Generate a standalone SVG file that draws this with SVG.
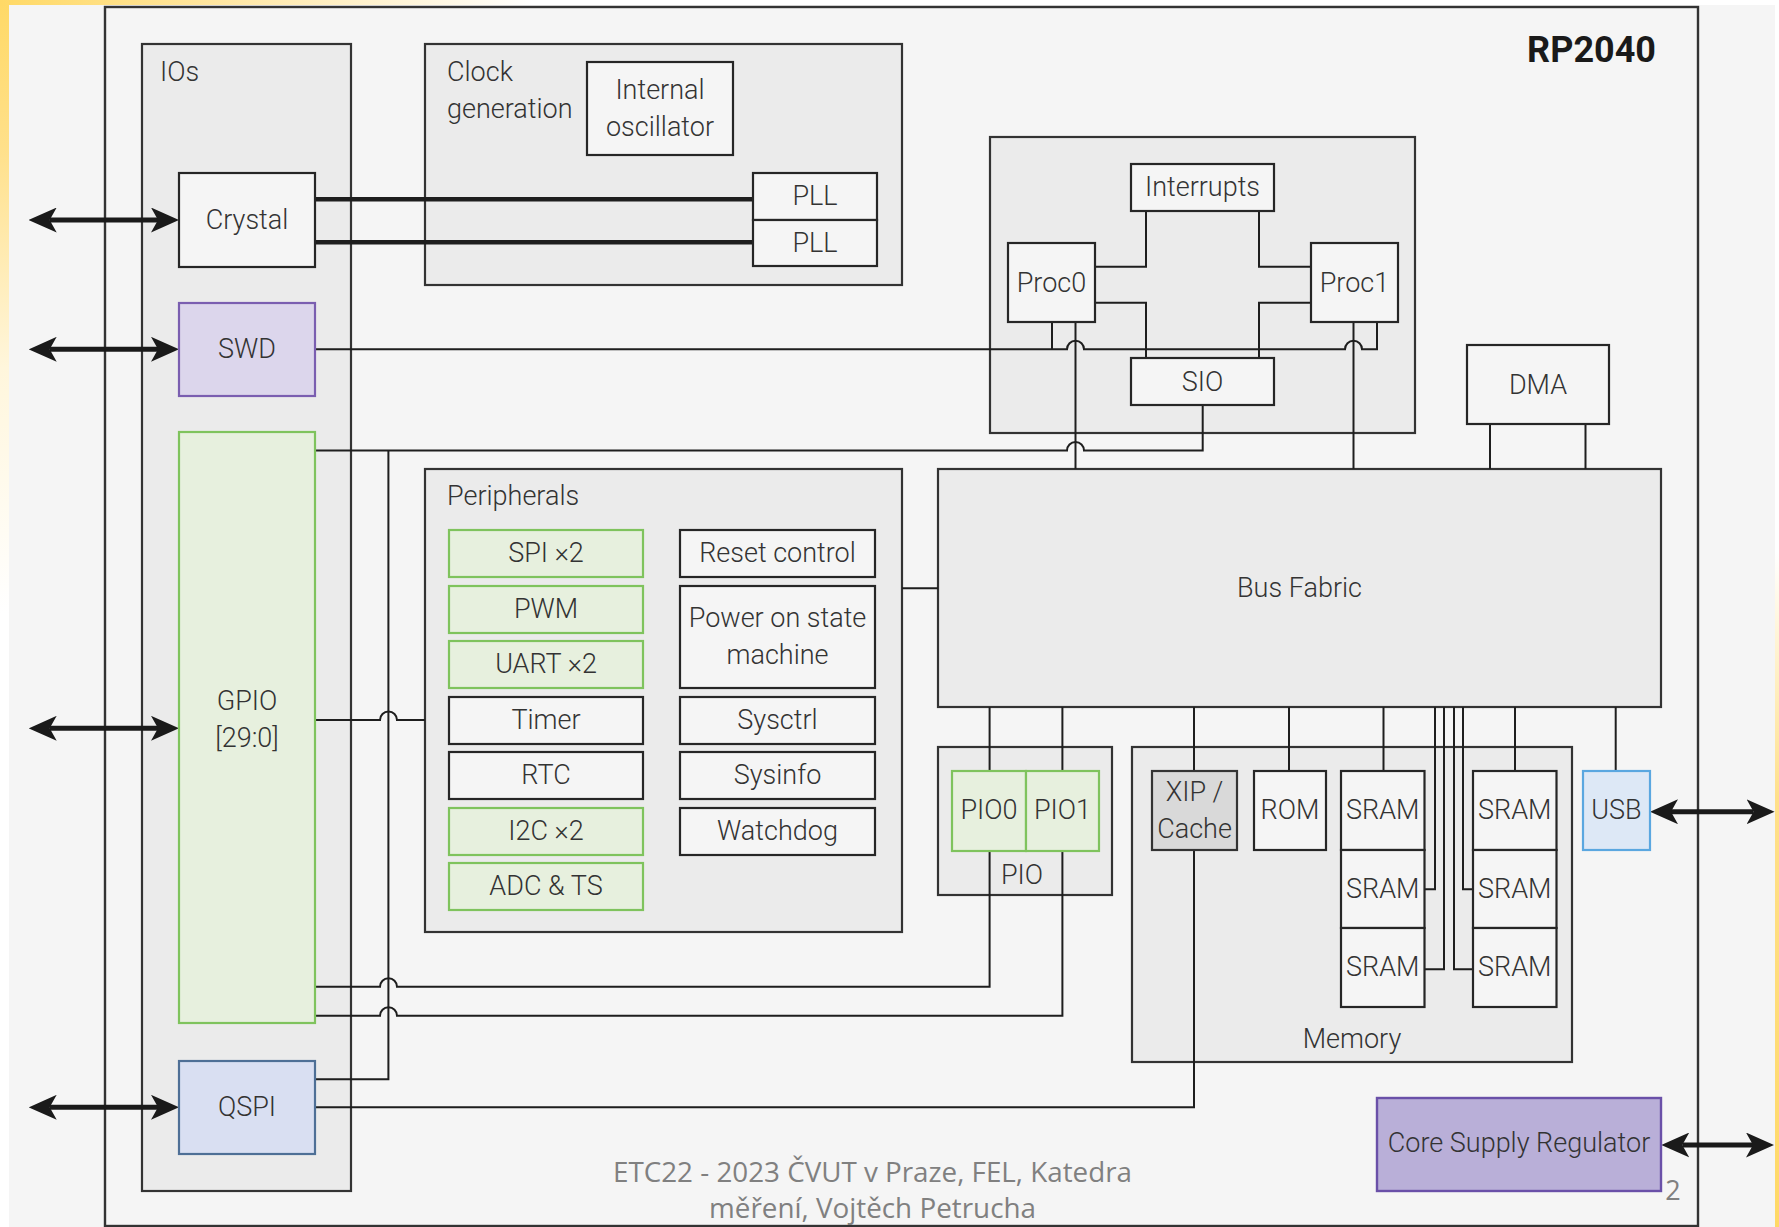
<svg xmlns="http://www.w3.org/2000/svg" width="1779" height="1227" viewBox="0 0 1779 1227">
<defs>
<linearGradient id="gLeft" x1="0" y1="0" x2="0" y2="1">
<stop offset="0" stop-color="#ffd966"/><stop offset="0.12" stop-color="#ffe08a"/><stop offset="0.3" stop-color="#fff6dc"/><stop offset="0.5" stop-color="#ffffff"/><stop offset="1" stop-color="#ffffff"/>
</linearGradient>
<linearGradient id="gTop" x1="0" y1="0" x2="1" y2="0">
<stop offset="0" stop-color="#ffd966"/><stop offset="0.12" stop-color="#ffe6a0"/><stop offset="0.3" stop-color="#ffffff"/><stop offset="1" stop-color="#ffffff"/>
</linearGradient>
<linearGradient id="gRight" x1="0" y1="0" x2="0" y2="1">
<stop offset="0" stop-color="#ffffff"/><stop offset="0.45" stop-color="#ffffff"/><stop offset="0.65" stop-color="#ffe08a"/><stop offset="1" stop-color="#ffd966"/>
</linearGradient>
<marker id="arr" viewBox="-7 -12.5 28 25" markerWidth="28" markerHeight="25" refX="0" refY="0" markerUnits="userSpaceOnUse" orient="auto-start-reverse">
<path d="M21,0 L-7,-12.5 L0,0 L-7,12.5 Z" fill="#1a1a1a"/>
</marker>
<style>
.t{font-family:Roboto,"Liberation Sans",sans-serif;font-weight:300;font-size:27px;fill:#333;text-anchor:middle}
.s{text-anchor:start}
.b{font-weight:700;font-size:36px;fill:#1a1a1a;text-anchor:end}
.box{fill:#f5f5f5;stroke:#262626;stroke-width:2.2}
.grp{fill:#ebebeb;stroke:#333;stroke-width:2.2}
.grn{fill:#e7f0de;stroke:#7fc35d;stroke-width:2.2}
.xip{fill:#d9d9d9;stroke:#333;stroke-width:2.2}
.swd{fill:#dcd6ec;stroke:#7a5eb0;stroke-width:2.2}
.qspi{fill:#d9dff2;stroke:#4e6f96;stroke-width:2.2}
.usb{fill:#dde8f6;stroke:#5aa7e0;stroke-width:2.2}
.reg{fill:#b9afd8;stroke:#6a50a8;stroke-width:2.4}
.ln{fill:none;stroke:#1e1e1e;stroke-width:2}
.thick{stroke-width:4.5}
.ar{fill:none;stroke:#1a1a1a;stroke-width:5;marker-start:url(#arr);marker-end:url(#arr)}
.ft{font-family:"Open Sans","Liberation Sans",sans-serif;font-size:27px;fill:#808080;text-anchor:middle}
</style>
</defs>

<rect x="0" y="0" width="1779" height="1227" fill="#ffffff"/>
<rect x="0" y="0" width="10" height="1227" fill="url(#gLeft)"/>
<rect x="0" y="0" width="1779" height="6" fill="url(#gTop)"/>
<rect x="1774" y="0" width="5" height="1227" fill="url(#gRight)"/>
<rect x="9" y="5" width="1766" height="1222" fill="#f5f5f5"/>

<g id="rp2040">
<rect x="105" y="7" width="1593" height="1219" fill="#f5f5f5" stroke="#333" stroke-width="2.4"/>
<text class="t b" x="1656" y="62">RP2040</text>
</g>

<g id="ios"><rect class="grp" x="142" y="44" width="209" height="1147"/><text class="t s" x="160" y="81">IOs</text></g>
<g id="clockgen"><rect class="grp" x="425" y="44" width="477" height="241"/><text class="t s" x="447" y="81">Clock</text><text class="t s" x="447" y="118">generation</text></g>
<g id="cpu"><rect class="grp" x="990" y="137" width="425" height="296"/></g>
<g id="peripherals"><rect class="grp" x="425" y="469" width="477" height="463"/><text class="t s" x="447" y="505">Peripherals</text></g>
<g id="pio"><rect class="grp" x="938" y="747" width="174" height="148"/><text class="t" x="1022" y="884">PIO</text></g>
<g id="memory"><rect class="grp" x="1132" y="747" width="440" height="315"/><text class="t" x="1352" y="1048">Memory</text></g>
<g id="busfabric"><rect class="grp" x="938" y="469" width="723" height="238"/><text class="t" x="1299.5" y="597">Bus Fabric</text></g>

<g id="connectors">
<path class="ln thick" d="M315,199.3 H753 M315,242.3 H753"/>
<path class="ln" d="M315,349.3 H1067 a8.5,8.5 0 0 1 17,0 H1345 a8.5,8.5 0 0 1 17,0 H1377 V322"/>
<path class="ln" d="M1052,322 V349.3"/>
<path class="ln" d="M1075.5,322 V469"/>
<path class="ln" d="M1353.5,322 V469"/>
<path class="ln" d="M1146,211 V266.7 H1095"/>
<path class="ln" d="M1259,211 V266.7 H1311"/>
<path class="ln" d="M1095,302.7 H1146 V358"/>
<path class="ln" d="M1311,302.7 H1259 V358"/>
<path class="ln" d="M1202.7,405 V450.5 H1084 a8.5,8.5 0 0 0 -17,0 H315"/>
<path class="ln" d="M315,1079.3 H388.4 V450.5"/>
<path class="ln" d="M1490,424 V469 M1585.5,424 V469"/>
<path class="ln" d="M902,588.3 H938"/>
<path class="ln" d="M315,720 H380 a8.5,8.5 0 0 1 17,0 H425"/>
<path class="ln" d="M989.6,707 V771 M989.6,851 V986.7 H397 a8.5,8.5 0 0 0 -17,0 H315"/>
<path class="ln" d="M1062.4,707 V771 M1062.4,851 V1015.7 H397 a8.5,8.5 0 0 0 -17,0 H315"/>
<path class="ln" d="M1194,707 V771 M1194,850 V1107.3 H315"/>
<path class="ln" d="M1289,707 V771"/>
<path class="ln" d="M1383.5,707 V771 M1515,707 V771"/>
<path class="ln" d="M1435,707 V889.3 H1424.5 M1444,707 V969.3 H1424.5 M1454,707 V969.3 H1473 M1463,707 V889.3 H1473"/>
<path class="ln" d="M1615.7,707 V771"/>
<path class="ar" d="M49.7,220 H158"/>
<path class="ar" d="M49.7,349.3 H158"/>
<path class="ar" d="M49.7,728.3 H158"/>
<path class="ar" d="M49.7,1107.3 H158"/>
<path class="ar" d="M1671,811.7 H1753.6"/>
<path class="ar" d="M1682.3,1145 H1753"/>
</g>

<g id="crystal"><rect class="box" x="179" y="173" width="136" height="94"/><text class="t" x="247" y="229">Crystal</text></g>
<g id="swd"><rect class="swd" x="179" y="303" width="136" height="93"/><text class="t" x="247" y="358">SWD</text></g>
<g id="gpio"><rect class="grn" x="179" y="432" width="136" height="591"/><text class="t" x="247" y="710">GPIO</text><text class="t" x="247" y="747">[29:0]</text></g>
<g id="qspi"><rect class="qspi" x="179" y="1061" width="136" height="93"/><text class="t" x="247" y="1116">QSPI</text></g>

<g id="osc"><rect class="box" x="587" y="62" width="146" height="93"/><text class="t" x="660" y="99">Internal</text><text class="t" x="660" y="136">oscillator</text></g>
<g id="pll0"><rect class="box" x="753" y="173" width="124" height="47"/><text class="t" x="815" y="205">PLL</text></g>
<g id="pll1"><rect class="box" x="753" y="220" width="124" height="46"/><text class="t" x="815" y="251.5">PLL</text></g>

<g id="interrupts"><rect class="box" x="1131" y="164" width="143" height="47"/><text class="t" x="1202.5" y="196">Interrupts</text></g>
<g id="proc0"><rect class="box" x="1008" y="243" width="87" height="79"/><text class="t" x="1051.5" y="292">Proc0</text></g>
<g id="proc1"><rect class="box" x="1311" y="243" width="87" height="79"/><text class="t" x="1354.5" y="292">Proc1</text></g>
<g id="sio"><rect class="box" x="1131" y="358" width="143" height="47"/><text class="t" x="1202.5" y="390.5">SIO</text></g>
<g id="dma"><rect class="box" x="1467" y="345" width="142" height="79"/><text class="t" x="1538" y="394">DMA</text></g>

<g id="spi"><rect class="grn" x="449" y="530" width="194" height="47"/><text class="t" x="546" y="561.5">SPI ×2</text></g>
<g id="pwm"><rect class="grn" x="449" y="586" width="194" height="47"/><text class="t" x="546" y="617.5">PWM</text></g>
<g id="uart"><rect class="grn" x="449" y="641" width="194" height="47"/><text class="t" x="546" y="672.5">UART ×2</text></g>
<g id="timer"><rect class="box" x="449" y="697" width="194" height="47"/><text class="t" x="546" y="728.5">Timer</text></g>
<g id="rtc"><rect class="box" x="449" y="752" width="194" height="47"/><text class="t" x="546" y="783.5">RTC</text></g>
<g id="i2c"><rect class="grn" x="449" y="808" width="194" height="47"/><text class="t" x="546" y="839.5">I2C ×2</text></g>
<g id="adc"><rect class="grn" x="449" y="863" width="194" height="47"/><text class="t" x="546" y="894.5">ADC &amp; TS</text></g>
<g id="reset"><rect class="box" x="680" y="530" width="195" height="47"/><text class="t" x="777.5" y="561.5">Reset control</text></g>
<g id="psm"><rect class="box" x="680" y="586" width="195" height="102"/><text class="t" x="777.5" y="627">Power on state</text><text class="t" x="777.5" y="663.5">machine</text></g>
<g id="sysctrl"><rect class="box" x="680" y="697" width="195" height="47"/><text class="t" x="777.5" y="728.5">Sysctrl</text></g>
<g id="sysinfo"><rect class="box" x="680" y="752" width="195" height="47"/><text class="t" x="777.5" y="783.5">Sysinfo</text></g>
<g id="watchdog"><rect class="box" x="680" y="808" width="195" height="47"/><text class="t" x="777.5" y="839.5">Watchdog</text></g>

<g id="pio0"><rect class="grn" x="952" y="771" width="74" height="80"/><text class="t" x="989" y="819">PIO0</text></g>
<g id="pio1"><rect class="grn" x="1026" y="771" width="73" height="80"/><text class="t" x="1062.5" y="819">PIO1</text></g>

<g id="xip"><rect class="xip" x="1152" y="771" width="85" height="79"/><text class="t" x="1194.5" y="801">XIP /</text><text class="t" x="1194.5" y="838">Cache</text></g>
<g id="rom"><rect class="box" x="1254" y="771" width="72" height="79"/><text class="t" x="1290" y="819">ROM</text></g>
<g id="sram0"><rect class="box" x="1341" y="771" width="83.5" height="79"/><text class="t" x="1382.7" y="819">SRAM</text></g>
<g id="sram1"><rect class="box" x="1341" y="850" width="83.5" height="78"/><text class="t" x="1382.7" y="898">SRAM</text></g>
<g id="sram2"><rect class="box" x="1341" y="928" width="83.5" height="79"/><text class="t" x="1382.7" y="976">SRAM</text></g>
<g id="sram3"><rect class="box" x="1473" y="771" width="83.5" height="79"/><text class="t" x="1514.7" y="819">SRAM</text></g>
<g id="sram4"><rect class="box" x="1473" y="850" width="83.5" height="78"/><text class="t" x="1514.7" y="898">SRAM</text></g>
<g id="sram5"><rect class="box" x="1473" y="928" width="83.5" height="79"/><text class="t" x="1514.7" y="976">SRAM</text></g>
<g id="usb"><rect class="usb" x="1583" y="771" width="67" height="79"/><text class="t" x="1616.5" y="819">USB</text></g>

<g id="regulator"><rect class="reg" x="1377" y="1098" width="284" height="93"/><text class="t" x="1519" y="1152">Core Supply Regulator</text></g>

<g id="footer">
<text class="ft" x="872.5" y="1182" textLength="519" lengthAdjust="spacingAndGlyphs">ETC22 - 2023 ČVUT v Praze, FEL, Katedra</text>
<text class="ft" x="872.5" y="1218" textLength="327" lengthAdjust="spacingAndGlyphs">měření, Vojtěch Petrucha</text>
<text class="ft" x="1673" y="1200">2</text>
</g>
</svg>
